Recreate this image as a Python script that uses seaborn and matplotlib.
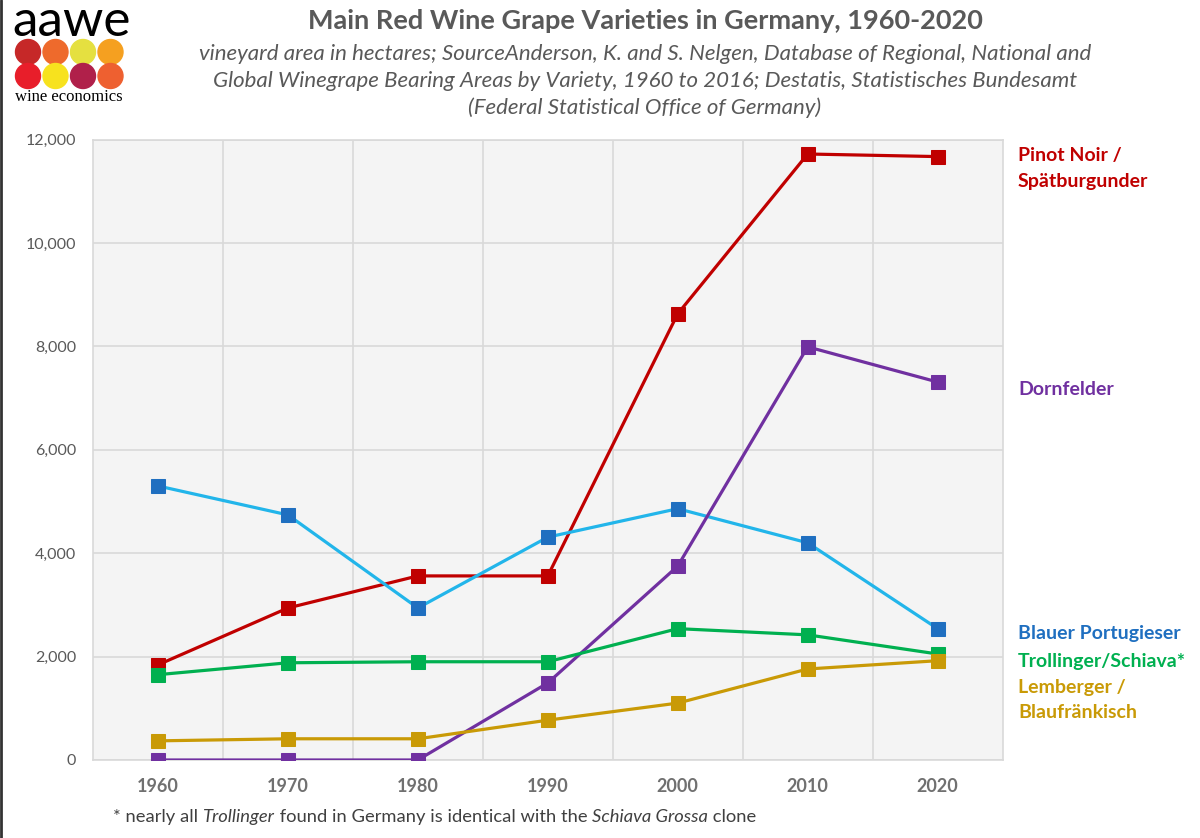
import numpy as np
import pandas as pd
import matplotlib as mpl
mpl.use("Agg")
import matplotlib.pyplot as plt
from matplotlib.patches import Circle
from matplotlib.lines import Line2D
import seaborn as sns

# data (hectares)
years = [1960, 1970, 1980, 1990, 2000, 2010, 2020]
pinot_noir = [1840, 2940, 3560, 3560, 8630, 11720, 11670]
portugieser = [5300, 4740, 2940, 4310, 4860, 4200, 2540]
dornfelder = [0, 0, 0, 1490, 3750, 7990, 7310]
trollinger = [1650, 1880, 1900, 1900, 2540, 2420, 2050]
lemberger = [370, 410, 410, 770, 1100, 1760, 1920]

series_names = ["Pinot Noir", "Blauer Portugieser", "Dornfelder", "Trollinger", "Lemberger"]
series_vals = [pinot_noir, portugieser, dornfelder, trollinger, lemberger]
line_colors = ["#C00000", "#22B5EA", "#7030A0", "#00B050", "#C99A06"]
marker_colors = ["#C00000", "#1F6FC0", "#7030A0", "#00B050", "#C99A06"]

df = pd.DataFrame({
    "year": years * len(series_names),
    "area": sum(series_vals, []),
    "variety": np.repeat(series_names, len(years)),
})

sns.set_style("white")
plt.rcParams["font.family"] = ["Lato", "DejaVu Sans"]
GRAY = "#595959"

fig = plt.figure(figsize=(12, 8.38), dpi=100)
ax = fig.add_axes([0.0775, 0.0931, 0.758, 0.7404])
ax.set_facecolor("#F4F4F4")

for name, lc, mc in zip(series_names, line_colors, marker_colors):
    sub = df[df["variety"] == name]
    sns.lineplot(data=sub, x="year", y="area", ax=ax, color=lc, linewidth=2.3,
                 marker="s", markersize=9.5, markerfacecolor=mc, markeredgecolor=mc,
                 legend=False, zorder=3)

ax.set_xlim(1955, 2025)
ax.set_ylim(0, 12000)
ax.set_xticks(years)
ax.set_xticks(np.arange(1965, 2020, 10), minor=True)
ax.set_yticks(np.arange(0, 12001, 2000))
ax.set_xticklabels([str(y) for y in years], fontsize=13, fontweight="bold", color="#707070")
ax.set_yticklabels([f"{v:,}" for v in range(0, 12001, 2000)], fontsize=11.5, color=GRAY)
ax.tick_params(axis="both", which="both", length=0)
ax.tick_params(axis="x", pad=13)
ax.tick_params(axis="y", pad=12)
ax.grid(axis="y", which="major", color="#D9D9D9", linewidth=1.2)
ax.grid(axis="x", which="minor", color="#D9D9D9", linewidth=1.2)
ax.grid(axis="x", which="major", visible=False)
ax.set_axisbelow(True)
ax.set_xlabel("")
ax.set_ylabel("")
for s in ax.spines.values():
    s.set_color("#D9D9D9")
    s.set_linewidth(1.2)

W, H = 1200, 838


def fx(px):
    return px / W


def fy(py):
    return 1 - py / H


# right-hand series labels
lab_kw = dict(fontsize=14, fontweight="bold", va="center", ha="left")
fig.text(fx(1018), fy(155), "Pinot Noir /", color="#C00000", **lab_kw)
fig.text(fx(1018), fy(181), "Spätburgunder", color="#C00000", **lab_kw)
fig.text(fx(1018), fy(389), "Dornfelder", color="#7030A0", **lab_kw)
fig.text(fx(1018), fy(633), "Blauer Portugieser", color="#1F6FC0", **lab_kw)
fig.text(fx(1018), fy(662), "Trollinger/Schiava*", color="#00B050", **lab_kw)
fig.text(fx(1018), fy(688), "Lemberger /", color="#C99A06", **lab_kw)
fig.text(fx(1018), fy(713), "Blaufränkisch", color="#C99A06", **lab_kw)

# title and subtitle
fig.text(fx(645), fy(21), "Main Red Wine Grape Varieties in Germany, 1960-2020",
         fontsize=19.5, fontweight="bold", color=GRAY, ha="center", va="center")
sub_lines = [
    "vineyard area in hectares; SourceAnderson, K. and S. Nelgen, Database of Regional, National and",
    "Global Winegrape Bearing Areas by Variety, 1960 to 2016; Destatis, Statistisches Bundesamt",
    "(Federal Statistical Office of Germany)",
]
for i, line in enumerate(sub_lines):
    fig.text(fx(645), fy(54 + 27 * i), line, fontsize=16, fontstyle="italic",
             color=GRAY, ha="center", va="center")

# footnote with mixed italic parts
parts = [("* nearly all ", "normal"), ("Trollinger", "italic"),
         (" found in Germany is identical with the ", "normal"),
         ("Schiava Grossa", "italic"), (" clone", "normal")]
renderer = fig.canvas.get_renderer()
x0 = fx(113)
for txt, style in parts:
    t = fig.text(x0, fy(817), txt, fontsize=13.2, fontstyle=style, color="#404040",
                 ha="left", va="center")
    bb = t.get_window_extent(renderer=renderer)
    x0 += bb.width / fig.bbox.width

# logo
fig.text(fx(12), fy(22), "aawe", fontsize=37, color="black", ha="left", va="center")
logo = fig.add_axes([0, 1 - 90 / H, 140 / W, 52 / H])
logo.set_xlim(0, 140)
logo.set_ylim(52, 0)
logo.axis("off")
logo_cols = [["#C62828", "#EE6A2C", "#E5E040", "#F5A020"],
             ["#E81E2A", "#F7E21E", "#B0204A", "#EE6030"]]
for r, row in enumerate(logo_cols):
    for c, col in enumerate(row):
        logo.add_patch(Circle((28 + 27.5 * c, 14 + 24 * r), 12.5, color=col))
fig.text(fx(15), fy(97), "wine economics", fontsize=12, family="Liberation Serif",
         color="black", ha="left", va="center")

# thin dark border on the left edge
fig.add_artist(Line2D([0.001, 0.001], [0, 1], color="#333333", linewidth=2,
                      transform=fig.transFigure))

fig.savefig("out.png", dpi=100)
